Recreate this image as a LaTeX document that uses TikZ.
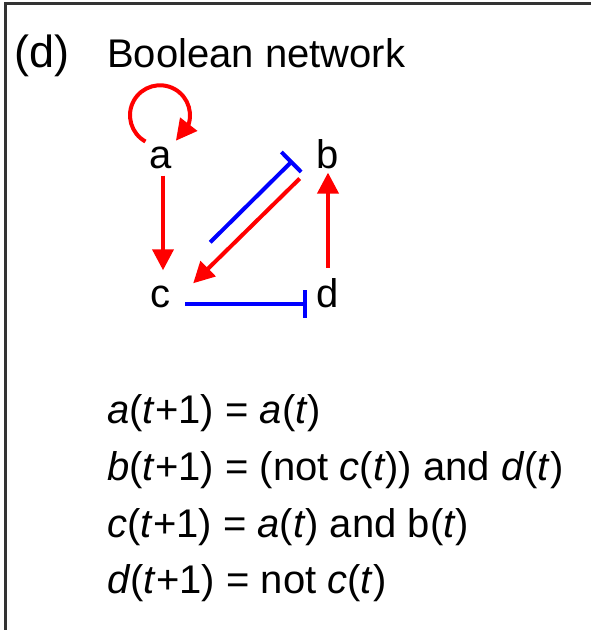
\documentclass[tikz,border=0pt]{standalone}
\usepackage{fontspec}
\setmainfont{Liberation Sans}
\usetikzlibrary{arrows.meta,calc,bending}
\definecolor{netred}{RGB}{255,0,0}
\definecolor{netblue}{RGB}{0,0,255}
\begin{document}
\begin{tikzpicture}[x=1pt,y=-1pt,
  lbl/.style={inner sep=0pt, anchor=base, font=\fontsize{40}{48}\selectfont},
  eqn/.style={inner sep=0pt, anchor=base west, font=\fontsize{40}{48}\selectfont},
  act/.style={draw=netred, line width=4pt, -{Triangle[length=21pt,width=21pt]}},
  inh/.style={draw=netblue, line width=4pt, -{Bar[width=28pt]}},
  frame/.style={draw=black!80, line width=3pt}]
\useasboundingbox (0,0) rectangle (591,630);
\draw[frame] (591,3) -- (5,3) -- (5,630);

\node[eqn, font=\fontsize{45}{52}\selectfont] (lab) at (14,67) {(d)};
\node[eqn] (title) at (107,67) {Boolean network};

\node[lbl] (a) at (161,168) {a};
\node[lbl] (b) at (328,168) {b};
\node[lbl] (c) at (160,307) {c};
\node[lbl] (d) at (328,307) {d};

\draw[act] ($(a.north)+(-1,-31)+(119:30)$) arc[start angle=119, end angle=418, radius=30];
\draw[act] ($(a.south)+(2,7)$) -- ($(c.north)+(3,-15)$);
\draw[inh] ($(c.mid east)+(15,0)$) -- ($(d.mid west)+(-10,0)$);
\draw[act] ($(d.north)+(0,-10)$) -- ($(b.south)+(0,4)$);
\draw[inh] ($(c.north east)+(40,-43)$) -- ($(b.south west)+(-24,-8)$);
\draw[act] ($(b.south west)+(-17,10)$) -- ($(c.north east)+(23,-2)$);

\node[eqn] (e1) at (107,423) {\textit{a}(\textit{t}+1) = \textit{a}(\textit{t})};
\node[eqn] (e2) at (107,480) {\textit{b}(\textit{t}+1) = (not \textit{c}(\textit{t})) and \textit{d}(\textit{t})};
\node[eqn] (e3) at (107,537) {\textit{c}(\textit{t}+1) = \textit{a}(\textit{t}) and b(\textit{t})};
\node[eqn] (e4) at (107,593) {\textit{d}(\textit{t}+1) = not \textit{c}(\textit{t})};
\end{tikzpicture}
\end{document}
